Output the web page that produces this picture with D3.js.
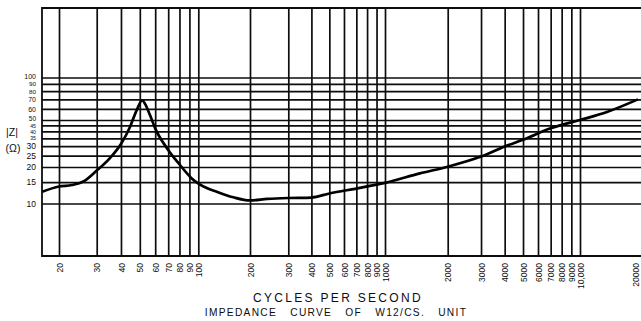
<!DOCTYPE html>
<html>
<head>
<meta charset="utf-8">
<script src="https://cdn.jsdelivr.net/npm/d3@7"></script>
<style>
  html, body { margin: 0; padding: 0; background: #fff; }
  svg { display: block; font-family: "Liberation Sans", "DejaVu Sans", sans-serif; }
</style>
</head>
<body>
<svg id="chart" width="641" height="321"></svg>
<script>
// Impedance magnitude of the W12/CS unit against frequency
const frequencies = [16.7, 20, 23, 26, 30, 35, 40, 44.5, 48.2, 51.5, 53.2, 56.4, 60, 70, 80.5, 92.5,
  112, 128, 160, 200, 240, 300, 400, 500, 720, 1000, 1470, 2000, 3000, 4000, 5000, 7000, 10000, 13800, 20000];
const impedance = [12.5, 13.8, 14.2, 15.2, 18.7, 23.7, 31.3, 43.6, 58.8, 69, 65, 54.2, 42.5, 27.9, 20.8, 16.1,
  13.4, 12.5, 11.25, 10.6, 10.9, 11.1, 11.2, 12.1, 13.4, 14.8, 17.7, 20.1, 24.5, 29.8, 34, 42.5, 50, 57, 70];

const xTickValues = [20, 30, 40, 50, 60, 70, 80, 90, 100, 200, 300, 400, 500, 600, 700, 800, 900, 1000,
  2000, 3000, 4000, 5000, 6000, 7000, 8000, 9000, 10000, 20000];
const xTickLabels = ["20", "30", "40", "50", "60", "70", "80", "90", "100", "200", "300", "400", "500",
  "600", "700", "800", "900", "1000", "2000", "3000", "4000", "5000", "6000", "7000", "8000", "9000",
  "10,000", "20000"];
const yTickValues = [10, 15, 20, 25, 30, 35, 40, 45, 50, 60, 70, 80, 90, 100];
const yTickLabels = ["10", "15", "20", "25", "30", "35", "40", "45", "50", "60", "70", "80", "90", "100"];

const svg = d3.select("#chart");
const plot = { left: 42, top: 8, bottom: 256, right: 641 };
const ink = "#0d0d0d";

// hand-ruled log paper: the printed decades are not evenly spaced, so the scale
// follows the rulings piecewise
const x = d3.scaleLog()
  .domain([20, 30, 100, 200, 300, 1000, 2000, 10000, 20000])
  .range([59, 96.7, 198.3, 250, 288.3, 385, 447.7, 580, 638]);
const y = d3.scaleLog()
  .domain([10, 20, 50, 100])
  .range([203.5, 167, 120, 77.5]);

// vertical rulings
const gridX = xTickValues.filter(v => v < 20000);
svg.append("g")
  .attr("transform", `translate(0,${plot.bottom})`)
  .call(d3.axisBottom(x).tickValues(gridX).tickSize(-(plot.bottom - plot.top)).tickFormat(""))
  .call(g => g.select(".domain").remove())
  .call(g => g.selectAll("line").attr("stroke", ink).attr("stroke-width", 1.7));

// frequency labels, reading upward
svg.append("g")
  .attr("transform", `translate(0,${plot.bottom})`)
  .call(d3.axisBottom(x).tickValues(xTickValues).tickSize(0)
    .tickFormat((d, i) => xTickLabels[i]))
  .call(g => g.select(".domain").remove())
  .call(g => g.selectAll("text")
    .attr("transform", "rotate(-90)")
    .attr("x", -7).attr("y", 0)
    .attr("dy", d => d >= 20000 ? "0.1em" : "0.36em")
    .style("text-anchor", "end")
    .attr("font-size", 8.5)
    .attr("fill", ink));

// horizontal rulings with impedance labels; the crowded upper ones are lettered smaller
const yFontSize = d => (d >= 35 && d <= 45) ? 5.2 : (d === 80 || d === 90) ? 6.2 :
  d === 50 ? 6.5 : d >= 60 ? 7 : 8.5;
const yLabelShift = d => d === 100 ? "0.1em" : d === 50 ? "0.05em" : "0.32em";
svg.append("g")
  .attr("transform", `translate(${plot.left},0)`)
  .call(d3.axisLeft(y).tickValues(yTickValues).tickSize(-(plot.right - plot.left)).tickPadding(6)
    .tickFormat((d, i) => yTickLabels[i]))
  .call(g => g.select(".domain").remove())
  .call(g => g.selectAll("line").attr("stroke", ink).attr("stroke-width", 1.7))
  .call(g => g.selectAll("text")
    .attr("font-size", yFontSize)
    .attr("dy", yLabelShift)
    .attr("fill", ink));

// frame: top, left and bottom edges
svg.append("path")
  .attr("d", `M${plot.right},${plot.top}H${plot.left}V${plot.bottom}H${plot.right}`)
  .attr("fill", "none").attr("stroke", ink).attr("stroke-width", 1.8);

// impedance curve
const points = frequencies.map((f, i) => [f, impedance[i]]);
svg.append("path")
  .datum(points)
  .attr("fill", "none")
  .attr("stroke", "#000")
  .attr("stroke-width", 2.7)
  .attr("stroke-linejoin", "round")
  .attr("d", d3.line().x(d => x(d[0])).y(d => y(d[1])).curve(d3.curveMonotoneX));

// axis titles
svg.append("text").attr("x", 12).attr("y", 136).attr("text-anchor", "middle")
  .attr("font-size", 10.5).attr("fill", ink).text("|Z|");
svg.append("text").attr("x", 13).attr("y", 152).attr("text-anchor", "middle")
  .attr("font-size", 10.5).attr("fill", ink).text("(Ω)");

svg.append("text").attr("x", 338).attr("y", 302).attr("text-anchor", "middle")
  .attr("font-size", 12).attr("letter-spacing", 2.3).attr("fill", ink)
  .text("CYCLES PER SECOND");
svg.append("text").attr("x", 336).attr("y", 316).attr("text-anchor", "middle")
  .attr("font-size", 10.2).attr("letter-spacing", 1.3).attr("word-spacing", 9).attr("fill", ink)
  .text("IMPEDANCE CURVE OF W12/CS. UNIT");
</script>
</body>
</html>
